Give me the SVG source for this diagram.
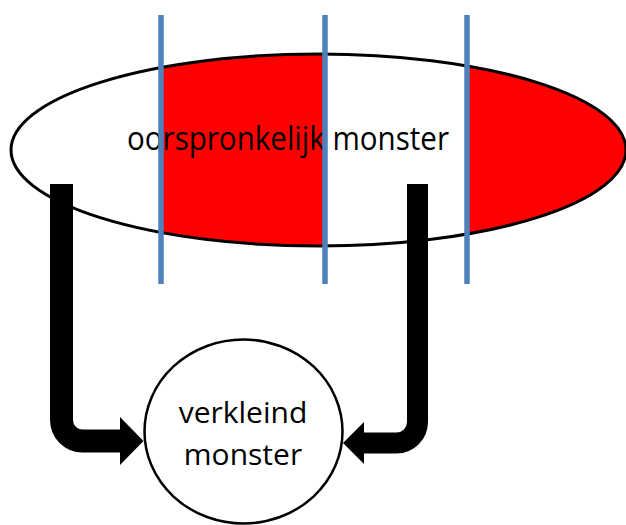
<svg xmlns="http://www.w3.org/2000/svg" width="626" height="525" viewBox="0 0 626 525">
  <style>
    .lbl { font-family: "Open Sans", "Noto Sans", "DejaVu Sans", sans-serif; font-size: 30px; fill: #000; text-anchor: middle; }
    .big { font-size: 32px; }
    .cut { stroke: #4F81BD; stroke-width: 5.5; fill: none; }
    .flow { stroke: #000; fill: none; stroke-linecap: butt; }
    .outline { stroke: #000; stroke-width: 3; }
  </style>
  <defs>
    <clipPath id="ellClip">
      <ellipse cx="318.5" cy="150" rx="307.5" ry="96"/>
    </clipPath>
  </defs>
  <rect width="626" height="525" fill="#fff"/>
  <g id="oorspronkelijk-monster">
    <ellipse cx="318.5" cy="150" rx="307.5" ry="96" fill="#fff"/>
    <g clip-path="url(#ellClip)" fill="#FF0000">
      <rect x="161" y="40" width="164" height="220"/>
      <rect x="467" y="40" width="170" height="220"/>
    </g>
    <ellipse class="outline" cx="318.5" cy="150" rx="307.5" ry="96" fill="none"/>
    <text class="lbl big" x="288" y="150" textLength="322" lengthAdjust="spacingAndGlyphs">oorspronkelijk monster</text>
  </g>
  <g id="snijlijnen">
    <line class="cut" x1="161" y1="15" x2="161" y2="284"/>
    <line class="cut" x1="325" y1="15" x2="325" y2="284"/>
    <line class="cut" x1="467" y1="15" x2="467" y2="284"/>
  </g>
  <g id="verkleind-monster">
    <ellipse cx="243.5" cy="431.5" rx="99" ry="92" fill="#fff" stroke="#000" stroke-width="2.5"/>
    <text class="lbl" x="243" y="423">verkleind</text>
    <text class="lbl" x="243" y="465">monster</text>
  </g>
  <g id="connectors">
    <path class="flow" stroke-width="23" d="M61.5,184 V420 A21,21 0 0 0 82.5,441 H121"/>
    <polygon points="120,417 143.5,441 120,465" fill="#000"/>
    <path class="flow" stroke-width="21" d="M417.5,184 V422 A21,21 0 0 1 396.5,443 H363"/>
    <polygon points="364,422 343,443 364,464" fill="#000"/>
  </g>
</svg>
